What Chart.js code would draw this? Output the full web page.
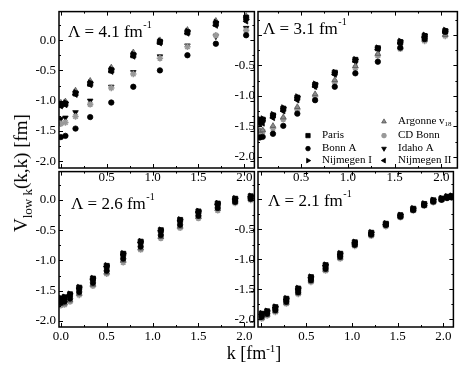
<!DOCTYPE html>
<html>
<head>
<meta charset="utf-8">
<script src="https://cdn.jsdelivr.net/npm/chart.js@4.4.0/dist/chart.umd.min.js"></script>
<style>
  html, body { margin: 0; padding: 0; background: #fff; }
  #fig { position: relative; width: 467px; height: 374px; overflow: hidden;
         font-family: "Liberation Serif", "DejaVu Serif", serif; color: #000; }
  #fig canvas { position: absolute; }
  .ytitle { position: absolute; left: 21px; top: 173px; transform: translate(-50%, -50%) rotate(-90deg);
            font-size: 19px; white-space: nowrap; line-height: 20px; }
  .ytitle sub { font-size: 13px; line-height: 0; }
  .xtitle { position: absolute; left: 254px; top: 353px; transform: translate(-50%, -50%);
            font-size: 18px; white-space: nowrap; line-height: 20px; }
  .xtitle sup { font-size: 11px; line-height: 0; }
</style>
</head>
<body>
<div id="fig">
  <canvas id="tl" width="246" height="182" style="left:14px;top:6px"></canvas>
  <canvas id="tr" width="250" height="182" style="left:213px;top:6px"></canvas>
  <canvas id="bl" width="246" height="181" style="left:14px;top:166px"></canvas>
  <canvas id="br" width="246" height="181" style="left:213px;top:166px"></canvas>
  <div class="ytitle">V<sub>low k</sub>(k,k) [fm]</div>
  <div class="xtitle">k [fm<sup>-1</sup>]</div>
</div>
<script>
// ---- data: V_low k(k,k) in fm, k in fm^-1 ----

// Lambda = 4.1 fm^-1
const K_41     = [0.0, 0.05, 0.16, 0.32, 0.55, 0.79, 1.08, 1.38, 1.69, 2.02];
const PARIS_41 = [-1.07, -1.05, -0.88, -0.72, -0.50, -0.25, -0.03, 0.13, 0.27, 0.37];
const BONNA_41 = [-1.60, -1.58, -1.46, -1.27, -1.03, -0.77, -0.50, -0.25, -0.06, 0.08];
const NIJ1_41  = [-1.05, -1.03, -0.86, -0.70, -0.48, -0.23, -0.01, 0.15, 0.30, 0.34];
const ARG_41   = [-1.03, -1.01, -0.83, -0.67, -0.45, -0.20, 0.00, 0.17, 0.32, 0.40];
const CDB_41   = [-1.38, -1.36, -1.26, -1.06, -0.79, -0.56, -0.30, -0.11, 0.08, 0.16];
const IDAHO_41 = [-1.30, -1.28, -1.19, -1.00, -0.77, -0.53, -0.27, -0.09, 0.06, 0.20];
const NIJ2_41  = [-1.09, -1.07, -0.90, -0.74, -0.52, -0.27, -0.05, 0.11, 0.24, 0.31];

// Lambda = 3.1 fm^-1
const K_31     = [0.06, 0.09, 0.20, 0.31, 0.46, 0.65, 0.86, 1.08, 1.32, 1.56, 1.82, 2.04];
const PARIS_31 = [-1.40, -1.39, -1.32, -1.21, -1.03, -0.82, -0.62, -0.41, -0.22, -0.12, -0.02, 0.06];
const BONNA_31 = [-1.68, -1.67, -1.62, -1.49, -1.29, -1.07, -0.85, -0.63, -0.44, -0.21, -0.07, 0.05];
const NIJ1_31  = [-1.38, -1.37, -1.30, -1.19, -1.01, -0.80, -0.61, -0.40, -0.21, -0.10, 0.00, 0.08];
const ARG_31   = [-1.57, -1.56, -1.49, -1.35, -1.18, -0.97, -0.74, -0.51, -0.31, -0.20, -0.08, 0.00];
const CDB_31   = [-1.60, -1.58, -1.53, -1.38, -1.22, -1.01, -0.77, -0.54, -0.34, -0.23, -0.10, -0.02];
const IDAHO_31 = [-1.43, -1.42, -1.34, -1.23, -1.05, -0.84, -0.64, -0.43, -0.23, -0.15, -0.05, 0.03];
const NIJ2_31  = [-1.46, -1.45, -1.36, -1.25, -1.07, -0.85, -0.65, -0.44, -0.24, -0.14, -0.04, 0.04];

// Lambda = 2.6 fm^-1
const K_26     = [0.0, 0.04, 0.10, 0.20, 0.35, 0.50, 0.68, 0.87, 1.09, 1.30, 1.50, 1.71, 1.90, 2.07];
const PARIS_26 = [-1.63, -1.61, -1.56, -1.45, -1.30, -1.09, -0.89, -0.69, -0.50, -0.33, -0.19, -0.06, 0.02, 0.06];
const BONNA_26 = [-1.70, -1.68, -1.63, -1.52, -1.37, -1.17, -0.97, -0.77, -0.58, -0.41, -0.26, -0.13, -0.03, 0.02];
const NIJ1_26  = [-1.62, -1.60, -1.55, -1.44, -1.29, -1.08, -0.88, -0.68, -0.49, -0.32, -0.18, -0.05, 0.03, 0.07];
const ARG_26   = [-1.72, -1.71, -1.66, -1.55, -1.40, -1.20, -1.00, -0.80, -0.61, -0.44, -0.28, -0.15, -0.04, 0.01];
const CDB_26   = [-1.74, -1.73, -1.68, -1.57, -1.42, -1.22, -1.03, -0.82, -0.63, -0.46, -0.30, -0.17, -0.05, 0.00];
const IDAHO_26 = [-1.65, -1.63, -1.58, -1.48, -1.33, -1.12, -0.92, -0.72, -0.53, -0.36, -0.22, -0.09, 0.00, 0.04];
const NIJ2_26  = [-1.64, -1.62, -1.57, -1.46, -1.31, -1.10, -0.90, -0.70, -0.51, -0.34, -0.20, -0.07, 0.01, 0.05];

// Lambda = 2.1 fm^-1
const K_21     = [0.01, 0.07, 0.16, 0.28, 0.41, 0.55, 0.71, 0.87, 1.03, 1.21, 1.37, 1.53, 1.67, 1.79, 1.89, 1.98, 2.04, 2.09];
const PARIS_21 = [-1.91, -1.87, -1.80, -1.66, -1.49, -1.30, -1.10, -0.91, -0.72, -0.56, -0.41, -0.27, -0.16, -0.08, -0.02, 0.01, 0.04, 0.05];
const BONNA_21 = [-1.96, -1.91, -1.85, -1.71, -1.55, -1.35, -1.16, -0.96, -0.76, -0.59, -0.43, -0.29, -0.18, -0.10, -0.04, -0.01, 0.02, 0.03];
const NIJ1_21  = [-1.90, -1.86, -1.79, -1.65, -1.48, -1.29, -1.09, -0.90, -0.71, -0.55, -0.40, -0.26, -0.15, -0.07, -0.01, 0.02, 0.05, 0.06];
const ARG_21   = [-1.98, -1.93, -1.87, -1.73, -1.57, -1.37, -1.18, -0.98, -0.77, -0.60, -0.44, -0.30, -0.19, -0.11, -0.05, -0.01, 0.02, 0.03];
const CDB_21   = [-1.99, -1.94, -1.88, -1.74, -1.58, -1.38, -1.19, -0.99, -0.78, -0.61, -0.45, -0.30, -0.19, -0.11, -0.05, -0.01, 0.02, 0.03];
const IDAHO_21 = [-1.94, -1.90, -1.83, -1.69, -1.52, -1.33, -1.13, -0.94, -0.74, -0.58, -0.42, -0.28, -0.17, -0.09, -0.03, 0.00, 0.03, 0.04];
const NIJ2_21  = [-1.92, -1.88, -1.81, -1.67, -1.50, -1.31, -1.11, -0.92, -0.73, -0.57, -0.42, -0.27, -0.17, -0.09, -0.03, 0.00, 0.03, 0.04];

// potentials, in the order they are drawn
const SERIES_NAMES = ["Paris", "Bonn A", "Nijmegen I", "Argonne v18", "CD Bonn", "Idaho A", "Nijmegen II"];

// tick labels
const X_TICKS_FULL = [0, 0.5, 1.0, 1.5, 2.0];
const X_TICKS_SHORT = [0.5, 1.0, 1.5, 2.0];
const Y_TICKS_FULL = [0, -0.5, -1.0, -1.5, -2.0];
const Y_TICKS_SHORT = [-0.5, -1.0, -1.5, -2.0];
// small tick marks on the frame
const X_MARKS = [0, 0.25, 0.5, 0.75, 1.0, 1.25, 1.5, 1.75, 2.0];
const Y_MARKS = [0.25, 0, -0.25, -0.5, -0.75, -1.0, -1.25, -1.5, -1.75, -2.0];

// ---- styles ----
const FONT = '"Liberation Serif", "DejaVu Serif", serif';
const MARKER = {
  "Paris":       { pointStyle: "rect",     rotation: 0,   color: "#000", radius: 3.6 },
  "Bonn A":      { pointStyle: "circle",   rotation: 0,   color: "#000", radius: 2.7 },
  "Nijmegen I":  { pointStyle: "triangle", rotation: 90,  color: "#000", radius: 3.2 },
  "Argonne v18": { pointStyle: "triangle", rotation: 0,   color: "#8a8a8a", border: "#555", radius: 3.2 },
  "CD Bonn":     { pointStyle: "star",     rotation: 0,   color: "#999", radius: 3.2 },
  "Idaho A":     { pointStyle: "triangle", rotation: 180, color: "#000", radius: 3.2 },
  "Nijmegen II": { pointStyle: "triangle", rotation: -90, color: "#000", radius: 3.2 },
};

function isMajor(v) {
  return Math.abs(v * 2 - Math.round(v * 2)) < 1e-6;
}

function makeDatasets(k, lists) {
  return lists.map((vals, i) => {
    const name = SERIES_NAMES[i];
    const m = MARKER[name];
    return {
      label: name,
      data: k.map((kk, j) => ({ x: kk, y: vals[j] })),
      pointStyle: m.pointStyle,
      rotation: m.rotation,
      radius: m.radius,
      backgroundColor: m.color,
      borderColor: m.border || m.color,
      borderWidth: m.pointStyle === "star" ? 1.6 : 0.8,
      showLine: false,
    };
  });
}

// frame, inward tick marks and the Lambda label
const framePlugin = {
  id: "frame",
  afterDraw(chart, args, opts) {
    const { ctx, chartArea: a } = chart;
    const x = chart.scales.x, y = chart.scales.y;
    ctx.save();
    ctx.strokeStyle = "#000";
    ctx.lineWidth = 1;
    ctx.beginPath();
    X_MARKS.forEach(v => {
      if (v < x.min || v > x.max) return;
      const px = Math.round(x.getPixelForValue(v)) + 0.5;
      const len = isMajor(v) ? 4 : 2;
      ctx.moveTo(px, a.bottom); ctx.lineTo(px, a.bottom - len);
      ctx.moveTo(px, a.top); ctx.lineTo(px, a.top + len);
    });
    Y_MARKS.forEach(v => {
      if (v < y.min || v > y.max) return;
      const py = Math.round(y.getPixelForValue(v)) + 0.5;
      const len = isMajor(v) ? 4 : 2;
      ctx.moveTo(a.left, py); ctx.lineTo(a.left + len, py);
      ctx.moveTo(a.right, py); ctx.lineTo(a.right - len, py);
    });
    ctx.stroke();
    ctx.lineWidth = 1.5;
    ctx.strokeRect(a.left, a.top, a.width, a.height);

    // Lambda label
    ctx.fillStyle = "#000";
    ctx.textBaseline = "middle";
    ctx.textAlign = "left";
    ctx.font = "17px " + FONT;
    const tx = a.left + opts.dx, ty = a.top + opts.dy;
    ctx.fillText(opts.text, tx, ty);
    const w = ctx.measureText(opts.text).width;
    ctx.font = "10px " + FONT;
    ctx.fillText("-1", tx + w + 0.5, ty - 7);
    ctx.restore();
  }
};

// two-column legend inside the Lambda = 3.1 panel
const legendPlugin = {
  id: "boxLegend",
  afterDraw(chart) {
    const { ctx, chartArea: a } = chart;
    const place = {
      "Paris":       [50, 124],
      "Bonn A":      [50, 137],
      "Nijmegen I":  [50, 149],
      "Argonne v18": [126, 110],
      "CD Bonn":     [126, 124],
      "Idaho A":     [126, 137],
      "Nijmegen II": [126, 149],
    };
    ctx.save();
    ctx.textBaseline = "middle";
    ctx.textAlign = "left";
    chart.data.datasets.forEach(ds => {
      const p = place[ds.label];
      if (!p) return;
      const mx = a.left + p[0], my = a.top + p[1];
      ctx.fillStyle = ds.backgroundColor;
      ctx.strokeStyle = ds.borderColor;
      ctx.lineWidth = ds.borderWidth;
      const opt = { pointStyle: ds.pointStyle, radius: ds.radius * 0.85, rotation: ds.rotation, borderWidth: ds.borderWidth };
      if (Chart.helpers && Chart.helpers.drawPoint) {
        Chart.helpers.drawPoint(ctx, opt, mx, my);
      } else {
        ctx.beginPath(); ctx.arc(mx, my, 2.5, 0, Math.PI * 2); ctx.fill();
      }
      ctx.fillStyle = "#000";
      ctx.font = "11px " + FONT;
      const tx = mx + 14;
      if (ds.label === "Argonne v18") {
        ctx.fillText("Argonne v", tx, my);
        const w = ctx.measureText("Argonne v").width;
        ctx.font = "7px " + FONT;
        ctx.fillText("18", tx + w, my + 3);
      } else {
        ctx.fillText(ds.label, tx, my);
      }
    });
    ctx.restore();
  }
};

function makePanel(id, cfg) {
  const plugins = [framePlugin];
  if (cfg.legend) plugins.push(legendPlugin);
  return new Chart(document.getElementById(id), {
    type: "scatter",
    data: { datasets: makeDatasets(cfg.k, cfg.values) },
    plugins,
    options: {
      responsive: false,
      animation: false,
      devicePixelRatio: 1,
      layout: { padding: { top: 2, right: 2, left: 0, bottom: 0 } },
      plugins: {
        legend: { display: false },
        tooltip: { enabled: false },
        frame: { text: cfg.label, dx: cfg.labelPos[0], dy: cfg.labelPos[1] },
      },
      scales: {
        x: {
          type: "linear", min: cfg.xRange[0], max: cfg.xRange[1],
          afterBuildTicks: s => { s.ticks = cfg.xTicks.map(v => ({ value: v })); },
          afterFit: s => { s.height = 20; s.paddingLeft = 0; s.paddingRight = 0; },
          ticks: { color: "#000", padding: 2, maxRotation: 0, autoSkip: false,
                   font: { family: FONT, size: 13 }, callback: v => Number(v).toFixed(1) },
          grid: { display: false, drawTicks: false },
          border: { display: false },
        },
        y: {
          type: "linear", min: cfg.yRange[0], max: cfg.yRange[1],
          afterBuildTicks: s => { s.ticks = cfg.yTicks.map(v => ({ value: v })); },
          afterFit: s => { s.width = 45; s.paddingTop = 0; s.paddingBottom = 0; },
          ticks: { color: "#000", padding: 3, autoSkip: false,
                   font: { family: FONT, size: 13 }, callback: v => Number(v).toFixed(1) },
          grid: { display: false, drawTicks: false },
          border: { display: false },
        },
      },
    },
  });
}

makePanel("tl", {
  k: K_41, values: [PARIS_41, BONNA_41, NIJ1_41, ARG_41, CDB_41, IDAHO_41, NIJ2_41],
  label: "\u039B = 4.1 fm", labelPos: [9, 21],
  xRange: [-0.02, 2.11], yRange: [-2.11, 0.47], xTicks: X_TICKS_SHORT, yTicks: Y_TICKS_FULL,
});
makePanel("tr", {
  k: K_31, values: [PARIS_31, BONNA_31, NIJ1_31, ARG_31, CDB_31, IDAHO_31, NIJ2_31],
  label: "\u039B = 3.1 fm", labelPos: [5, 18], legend: true,
  xRange: [0.04, 2.17], yRange: [-2.18, 0.38], xTicks: X_TICKS_SHORT, yTicks: Y_TICKS_SHORT,
});
makePanel("bl", {
  k: K_26, values: [PARIS_26, BONNA_26, NIJ1_26, ARG_26, CDB_26, IDAHO_26, NIJ2_26],
  label: "\u039B = 2.6 fm", labelPos: [12, 33],
  xRange: [-0.02, 2.11], yRange: [-2.10, 0.47], xTicks: X_TICKS_FULL, yTicks: Y_TICKS_FULL,
});
makePanel("br", {
  k: K_21, values: [PARIS_21, BONNA_21, NIJ1_21, ARG_21, CDB_21, IDAHO_21, NIJ2_21],
  label: "\u039B = 2.1 fm", labelPos: [10, 30],
  xRange: [-0.03, 2.11], yRange: [-2.13, 0.46], xTicks: X_TICKS_SHORT, yTicks: Y_TICKS_SHORT,
});
</script>
</body>
</html>
